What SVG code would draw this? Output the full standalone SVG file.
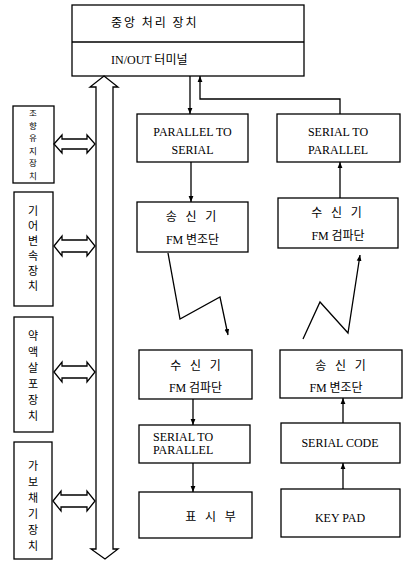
<svg xmlns="http://www.w3.org/2000/svg" width="405" height="561" viewBox="0 0 405 561">
<defs>
<style>
.box{fill:#fff;stroke:#000;stroke-width:1.3}
.ln{fill:none;stroke:#000;stroke-width:1.3}
.t{font-family:"Liberation Serif","Noto Sans CJK KR",serif;font-size:12px;fill:#000}
.k{font-family:"Noto Sans CJK KR","Liberation Serif",sans-serif;font-size:12px;fill:#000}
.sp{letter-spacing:3px}
.v{font-family:"Noto Sans CJK KR",sans-serif;font-size:11px;fill:#000;text-anchor:middle}
.v1{font-size:8.5px}
.dbl{fill:#fff;stroke:#000;stroke-width:1.3;stroke-linejoin:miter}
</style>
<marker id="ah" viewBox="0 0 10 10" refX="10" refY="5" markerWidth="6" markerHeight="6" orient="auto-start-reverse" markerUnits="userSpaceOnUse">
<path d="M0,1 L10,5 L0,9 z" fill="#000"/>
</marker>
</defs>
<rect width="405" height="561" fill="#fff"/>

<g id="cpu">
<rect class="box" x="72" y="5" width="232" height="71"/>
<line class="ln" x1="72" y1="42" x2="304" y2="42"/>
<text class="k" x="111" y="27" letter-spacing="2">중앙 처리 장치</text>
<text class="k" x="111" y="64"><tspan class="t">IN/OUT</tspan> 터미널</text>
</g>

<g id="dev1">
<rect class="box" x="13" y="106" width="41" height="77"/>
<text class="v v1"><tspan x="33" y="116">조</tspan><tspan x="33" y="128.5">향</tspan><tspan x="33" y="141">유</tspan><tspan x="33" y="153.5">지</tspan><tspan x="33" y="166">장</tspan><tspan x="33" y="178.5">치</tspan></text>
</g>
<g id="dev2">
<rect class="box" x="14" y="192" width="39" height="114"/>
<text class="v"><tspan x="33" y="215">기</tspan><tspan x="33" y="230">어</tspan><tspan x="33" y="245">변</tspan><tspan x="33" y="260">속</tspan><tspan x="33" y="275">장</tspan><tspan x="33" y="290">치</tspan></text>
</g>
<g id="dev3">
<rect class="box" x="14" y="317" width="39" height="115"/>
<text class="v"><tspan x="33" y="340">약</tspan><tspan x="33" y="356">액</tspan><tspan x="33" y="372">살</tspan><tspan x="33" y="388">포</tspan><tspan x="33" y="404">장</tspan><tspan x="33" y="420">치</tspan></text>
</g>
<g id="dev4">
<rect class="box" x="14" y="442" width="38" height="117"/>
<text class="v"><tspan x="33" y="470">가</tspan><tspan x="33" y="486">보</tspan><tspan x="33" y="502">채</tspan><tspan x="33" y="518">기</tspan><tspan x="33" y="534">장</tspan><tspan x="33" y="550">치</tspan></text>
</g>

<g id="p2s">
<rect class="box" x="137" y="114" width="111" height="48"/>
<text class="t" x="192.5" y="136" text-anchor="middle">PARALLEL TO</text>
<text class="t" x="192.5" y="154" text-anchor="middle">SERIAL</text>
</g>
<g id="s2p-top">
<rect class="box" x="277" y="114" width="123" height="48"/>
<text class="t" x="338" y="136" text-anchor="middle">SERIAL TO</text>
<text class="t" x="338" y="154" text-anchor="middle">PARALLEL</text>
</g>
<g id="tx-top">
<rect class="box" x="137" y="202" width="111" height="50"/>
<text class="k sp" x="192.5" y="221" text-anchor="middle">송 신 기</text>
<text class="k" x="192.5" y="244" text-anchor="middle"><tspan class="t">FM</tspan> 변조단</text>
</g>
<g id="rx-top">
<rect class="box" x="278" y="198" width="120" height="50"/>
<text class="k sp" x="338" y="217" text-anchor="middle">수 신 기</text>
<text class="k" x="338" y="240" text-anchor="middle"><tspan class="t">FM</tspan> 검파단</text>
</g>

<g id="rx-bot">
<rect class="box" x="139" y="350" width="113" height="49"/>
<text class="k sp" x="197" y="370" text-anchor="middle">수 신 기</text>
<text class="k" x="195.5" y="392" text-anchor="middle"><tspan class="t">FM</tspan> 검파단</text>
</g>
<g id="s2p-bot">
<rect class="box" x="139" y="425" width="111" height="38"/>
<text class="t" x="153" y="441">SERIAL TO</text>
<text class="t" x="153" y="454">PARALLEL</text>
</g>
<g id="display">
<rect class="box" x="139" y="492" width="113" height="46"/>
<text class="k sp" x="212" y="521" text-anchor="middle">표 시 부</text>
</g>

<g id="tx-bot">
<rect class="box" x="280" y="350" width="122" height="48"/>
<text class="k sp" x="342" y="370" text-anchor="middle">송 신 기</text>
<text class="k" x="336" y="392" text-anchor="middle"><tspan class="t">FM</tspan> 변조단</text>
</g>
<g id="sercode">
<rect class="box" x="281" y="423" width="119" height="40"/>
<text class="t" x="340" y="447" text-anchor="middle">SERIAL CODE</text>
</g>
<g id="keypad">
<rect class="box" x="281" y="489" width="119" height="48"/>
<text class="t" x="340" y="522" text-anchor="middle">KEY PAD</text>
</g>

<g id="connectors">
<polygon class="dbl" points="104,76 118,87 113,87 113,549 118,549 105,559 91,549 96,549 96,87 90,87"/>
<polygon class="dbl" points="54,144 62,135 62,139 87,139 87,135 95,144 87,153 87,149 62,149 62,153"/>
<polygon class="dbl" points="54,246 62,236 62,240 87,240 87,236 95,246 87,256 87,252 62,252 62,256"/>
<polygon class="dbl" points="54,372 62,362 62,366 87,366 87,362 95,372 87,382 87,378 62,378 62,382"/>
<polygon class="dbl" points="53,501 61,491 61,495 87,495 87,491 95,501 87,511 87,507 61,507 61,511"/>
<line class="ln" x1="190" y1="76" x2="190" y2="114" marker-end="url(#ah)"/>
<polyline class="ln" points="340,114 340,99 200,99 200,76" marker-end="url(#ah)"/>
<line class="ln" x1="191" y1="162" x2="191" y2="202" marker-end="url(#ah)"/>
<line class="ln" x1="340" y1="198" x2="340" y2="162" marker-end="url(#ah)"/>
<polyline class="ln" points="168,253 180,319 220,297 228,335" marker-end="url(#ah)"/>
<polyline class="ln" points="303,339 320,302 348,333 360,255" marker-end="url(#ah)"/>
<line class="ln" x1="193" y1="399" x2="193" y2="425" marker-end="url(#ah)"/>
<line class="ln" x1="193" y1="463" x2="193" y2="492" marker-end="url(#ah)"/>
<line class="ln" x1="343" y1="423" x2="343" y2="398" marker-end="url(#ah)"/>
<line class="ln" x1="343" y1="489" x2="343" y2="463" marker-end="url(#ah)"/>
</g>
</svg>
